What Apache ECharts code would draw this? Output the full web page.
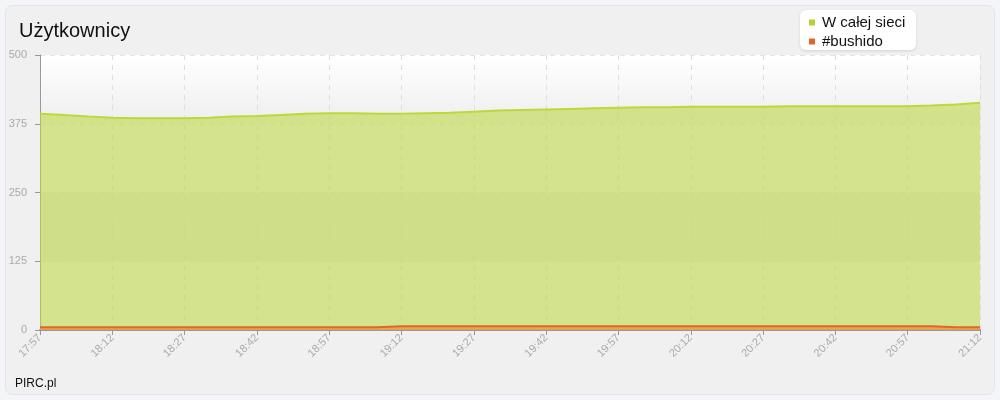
<!DOCTYPE html>
<html><head><meta charset="utf-8">
<script src="https://cdn.jsdelivr.net/npm/echarts@6/dist/echarts.min.js"></script>
<style>html,body{margin:0;padding:0;background:#f4f5f9;}#c{width:1000px;height:400px;}</style>
</head><body><div id="c"></div>
<script>
var times = ['17:57','18:02','18:07','18:12','18:17','18:22','18:27','18:32','18:37','18:42','18:47','18:52','18:57','19:02','19:07','19:12','19:17','19:22','19:27','19:32','19:37','19:42','19:47','19:52','19:57','20:02','20:07','20:12','20:17','20:22','20:27','20:32','20:37','20:42','20:47','20:52','20:57','21:02','21:07','21:12'];
var network = [393,391,388,386,385,385,385,386,388,389,391,393,394,394,393,393,394,395,397,399,400,401,402,403,404,405,405,406,406,406,406,407,407,407,407,407,407,408,410,413];
var channel = [5,5,5,5,5,5,5,5,5,5,5,5,5,5,5,7,7,7,7,7,7,7,7,7,7,7,7,7,7,7,7,7,7,7,7,7,7,7,5,5];
var yTicks = {min:0, max:500, step:125};
var titleText = 'Użytkownicy';
var footerText = 'PIRC.pl';
var seriesNames = ['W całej sieci', '#bushido'];

var chart = echarts.init(document.getElementById('c'));
chart.setOption({
  backgroundColor: '#f4f5f9',
  animation: false,
  graphic: [
    {type:'rect', z:-10, shape:{x:5.5,y:5.5,width:989,height:389,r:7}, style:{fill:'#f0f0f0', stroke:'#e3e4e8', lineWidth:1}},
    {type:'rect', z:-5, shape:{x:800,y:10,width:116,height:40,r:6}, style:{fill:'#ffffff', shadowBlur:3, shadowColor:'rgba(0,0,0,0.12)', shadowOffsetY:1}}
  ],
  title: [
    {text: titleText, left: 14, top: 16, textStyle:{fontFamily:'Liberation Sans, Arial', fontSize:20, fontWeight:'normal', color:'#111'}},
    {text: footerText, left: 10, top: 373, textStyle:{fontFamily:'Liberation Sans, Arial', fontSize:12, fontWeight:'normal', color:'#111'}}
  ],
  legend: {
    orient:'vertical', left: 804, top: 10, itemWidth:6, itemHeight:6, itemGap:4, icon:'rect',
    textStyle:{fontFamily:'Liberation Sans, Arial', fontSize:15, color:'#111', padding:[0,0,0,2]},
    data: seriesNames
  },
  grid: {left:40, right:20, top:55, bottom:70},
  xAxis: {
    type:'category', data: times, boundaryGap:false,
    axisLine:{lineStyle:{color:'#999', width:2}},
    axisTick:{interval:2, length:5, lineStyle:{color:'#999'}},
    axisLabel:{interval:2, rotate:45, color:'#aaa', fontSize:11, fontFamily:'Liberation Sans, Arial', margin:6},
    splitLine:{show:true, interval:2, lineStyle:{color:'#dedede', type:[5,5]}}
  },
  yAxis: {
    type:'value', min:yTicks.min, max:yTicks.max, interval:yTicks.step,
    axisLine:{show:true, lineStyle:{color:'#999'}},
    axisTick:{show:true, length:5, lineStyle:{color:'#999'}},
    axisLabel:{color:'#aaa', fontSize:11, fontFamily:'Liberation Sans, Arial', margin:13},
    splitLine:{show:true, lineStyle:{color:'#e4e4e4', type:[5,5]}},
    splitArea:{show:true, areaStyle:{color:['#f4f4f4','#e8e8e8','#f4f4f4',
      {type:'linear',x:0,y:0,x2:0,y2:1,colorStops:[{offset:0,color:'#ffffff'},{offset:1,color:'#eeeeee'}]}]}}
  },
  series: [
    {name: seriesNames[0], type:'line', data: network, symbol:'none', smooth:false,
     itemStyle:{color:'#b5d334'}, lineStyle:{color:'#bcd83a', width:2},
     areaStyle:{color:'rgb(189,217,71)', opacity:0.6}},
    {name: seriesNames[1], type:'line', data: channel, symbol:'none', step:false,
     itemStyle:{color:'#e0662a'}, lineStyle:{color:'#e0662a', width:2},
     areaStyle:{color:'rgb(240,150,70)', opacity:0.8}}
  ]
});
</script></body></html>
